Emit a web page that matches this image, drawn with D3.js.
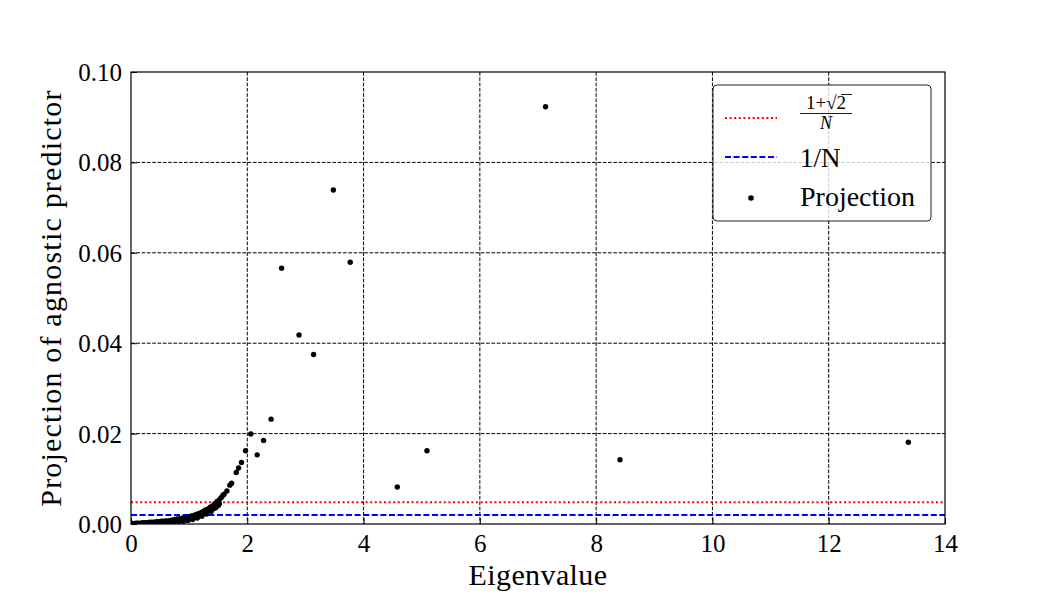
<!DOCTYPE html>
<html>
<head>
<meta charset="utf-8">
<script src="https://cdn.jsdelivr.net/npm/d3@7"></script>
<style>
  body { margin: 0; background: #fff; }
  svg text { font-family: "Liberation Serif", "DejaVu Serif", serif !important; fill: #000; }
</style>
</head>
<body>
<div class="chart"></div>
<script>
// values
const eigenvalues = [
  0.00, 0.02, 0.03, 0.06, 0.09, 0.10, 0.12, 0.16, 0.18, 0.20, 0.24, 0.26, 0.28, 0.32, 0.34, 0.36,
  0.40, 0.42, 0.44, 0.48, 0.50, 0.52, 0.56, 0.58, 0.60, 0.64, 0.66, 0.68, 0.72, 0.74, 0.76, 0.80,
  0.82, 0.84, 0.86, 0.88, 0.90, 0.92, 0.94, 0.96, 0.98, 1.00, 1.02, 1.04, 1.06, 1.08, 1.10, 1.12,
  1.14, 1.16, 1.18, 1.20, 1.22, 1.24, 1.26, 1.28, 1.30, 1.32, 1.34, 1.36, 1.38, 1.40, 1.42, 1.44,
  1.46, 1.48, 1.50, 1.52, 1.52, 1.55, 1.58, 1.60, 1.65, 1.70, 1.73, 1.81, 1.85, 1.90, 1.97, 2.06,
  2.17, 2.28, 2.41, 2.59, 2.89, 3.14, 3.48, 3.77, 4.58, 5.09, 7.13, 8.41, 13.37
]
const projections = [
  0.0001, 0.0000, 0.0001, 0.0001, 0.0002, 0.0000, 0.0002, 0.0002, 0.0001, 0.0003, 0.0003, 0.0001, 0.0003, 0.0004, 0.0001, 0.0004,
  0.0004, 0.0001, 0.0005, 0.0005, 0.0002, 0.0006, 0.0006, 0.0002, 0.0007, 0.0007, 0.0003, 0.0008, 0.0009, 0.0004, 0.0010, 0.0011,
  0.0005, 0.0012, 0.0009, 0.0013, 0.0006, 0.0014, 0.0011, 0.0015, 0.0008, 0.0016, 0.0013, 0.0018, 0.0010, 0.0019, 0.0015, 0.0021,
  0.0013, 0.0023, 0.0019, 0.0025, 0.0017, 0.0028, 0.0024, 0.0031, 0.0022, 0.0033, 0.0029, 0.0037, 0.0028, 0.0040, 0.0034, 0.0045,
  0.0036, 0.0050, 0.0041, 0.0054, 0.0045, 0.0058, 0.0063, 0.0066, 0.0073, 0.0086, 0.0090, 0.0114, 0.0124, 0.0136, 0.0162, 0.0199,
  0.0153, 0.0185, 0.0232, 0.0566, 0.0418, 0.0375, 0.0739, 0.0579, 0.0082, 0.0162, 0.0923, 0.0142, 0.0181
]
const N = 500
const xTicks = [0, 2, 4, 6, 8, 10, 12, 14]
const yTicks = [0.00, 0.02, 0.04, 0.06, 0.08, 0.10]

const serif = '"Liberation Serif", "DejaVu Serif", serif'

const margin = {top: 72, right: 105, bottom: 76, left: 131},
    width = 1050 - margin.left - margin.right,
    height = 600 - margin.top - margin.bottom

const x = d3.scaleLinear().domain([0, 14]).range([0, width])
const y = d3.scaleLinear().domain([0, 0.1]).range([height, 0])

const svg = d3.select(".chart").append("svg")
    .attr("width", 1050)
    .attr("height", 600)

const g = svg.append("g")
    .attr("transform", "translate(" + margin.left + "," + margin.top + ")")

svg.append("defs").append("clipPath").attr("id", "plot")
  .append("rect").attr("width", width).attr("height", height)

// dashed grid
const grid = g.append("g")
grid.selectAll(".vg")
    .data(xTicks.slice(1, -1))
    .enter().append("line")
    .attr("x1", d => x(d)).attr("x2", d => x(d))
    .attr("y1", 0).attr("y2", height)
grid.selectAll(".hg")
    .data(yTicks.slice(1, -1))
    .enter().append("line")
    .attr("x1", 0).attr("x2", width)
    .attr("y1", d => y(d)).attr("y2", d => y(d))
grid.selectAll("line")
    .attr("stroke", "#000")
    .attr("stroke-width", 1)
    .attr("stroke-dasharray", "3.7,1.6")

// reference levels
g.append("line")
    .attr("x1", 0).attr("x2", width)
    .attr("y1", y((1 + Math.SQRT2) / N)).attr("y2", y((1 + Math.SQRT2) / N))
    .attr("stroke", "red").attr("stroke-width", 2)
    .attr("stroke-dasharray", "2,2.6")
g.append("line")
    .attr("x1", 0).attr("x2", width)
    .attr("y1", y(1 / N)).attr("y2", y(1 / N))
    .attr("stroke", "blue").attr("stroke-width", 2)
    .attr("stroke-dasharray", "6,2.6")

// projection points
g.append("g").attr("clip-path", "url(#plot)")
  .selectAll("circle")
    .data(eigenvalues)
    .enter().append("circle")
    .attr("cx", d => x(d))
    .attr("cy", (d, i) => y(projections[i]))
    .attr("r", 2.7)
    .attr("fill", "#000")

// axes with inward ticks
const xAxis = d3.axisBottom(x).tickValues(xTicks).tickSize(-6).tickPadding(10).tickFormat(d3.format("d"))
const yAxis = d3.axisLeft(y).tickValues(yTicks).tickSize(-6).tickPadding(9).tickFormat(d3.format(".2f"))

g.append("g")
    .attr("transform", "translate(0," + height + ")")
    .call(xAxis)
    .call(a => a.select(".domain").remove())
    .call(a => a.selectAll("text").style("font-family", serif).style("font-size", "25px").attr("dy", "0.72em"))
    .call(a => a.selectAll("line").attr("stroke-width", 1))

g.append("g")
    .call(yAxis)
    .call(a => a.select(".domain").remove())
    .call(a => a.selectAll("text").style("font-family", serif).style("font-size", "25px").attr("dy", "0.34em"))
    .call(a => a.selectAll("line").attr("stroke-width", 1))

// frame
g.append("rect")
    .attr("width", width).attr("height", height)
    .attr("fill", "none").attr("stroke", "#000").attr("stroke-width", 1.2)

// axis titles
g.append("text")
    .attr("x", width / 2).attr("y", height + 61)
    .attr("text-anchor", "middle")
    .style("font-family", serif)
    .style("font-size", "30px")
    .style("letter-spacing", "0.4px")
    .text("Eigenvalue")

g.append("text")
    .attr("transform", "translate(-70," + (height / 2) + ") rotate(-90)")
    .attr("text-anchor", "middle")
    .style("font-family", serif)
    .style("font-size", "30px")
    .style("letter-spacing", "1.2px")
    .text("Projection of agnostic predictor")

// legend
const legend = svg.append("g").attr("transform", "translate(713,85)")
legend.append("rect")
    .attr("width", 218).attr("height", 136)
    .attr("rx", 4).attr("ry", 4)
    .attr("fill", "#fff").attr("fill-opacity", 0.8)
    .attr("stroke", "#222").attr("stroke-width", 1)

legend.append("line")
    .attr("x1", 12).attr("x2", 64).attr("y1", 33).attr("y2", 33)
    .attr("stroke", "red").attr("stroke-width", 2).attr("stroke-dasharray", "2,2.6")
legend.append("line")
    .attr("x1", 12).attr("x2", 64).attr("y1", 72).attr("y2", 72)
    .attr("stroke", "blue").attr("stroke-width", 2).attr("stroke-dasharray", "6,2.6")
legend.append("circle")
    .attr("cx", 38).attr("cy", 113).attr("r", 2.8).attr("fill", "#000")

// (1+sqrt2)/N as a small fraction
legend.append("text")
    .attr("x", 113).attr("y", 24)
    .attr("text-anchor", "middle")
    .style("font-family", serif)
    .style("font-size", "19px")
    .text("1+√2")
legend.append("line")
    .attr("x1", 128).attr("x2", 139).attr("y1", 9.5).attr("y2", 9.5)
    .attr("stroke", "#000").attr("stroke-width", 0.9)
legend.append("line")
    .attr("x1", 87).attr("x2", 139).attr("y1", 28.5).attr("y2", 28.5)
    .attr("stroke", "#000").attr("stroke-width", 0.9)
legend.append("text")
    .attr("x", 113).attr("y", 44)
    .attr("text-anchor", "middle")
    .style("font-family", serif)
    .style("font-size", "18px").style("font-style", "italic")
    .text("N")

legend.append("text")
    .attr("x", 87).attr("y", 82)
    .style("font-family", serif)
    .style("font-size", "27px")
    .text("1/N")
legend.append("text")
    .attr("x", 87).attr("y", 121)
    .style("font-family", serif)
    .style("font-size", "28px")
    .text("Projection")
</script>
</body>
</html>
